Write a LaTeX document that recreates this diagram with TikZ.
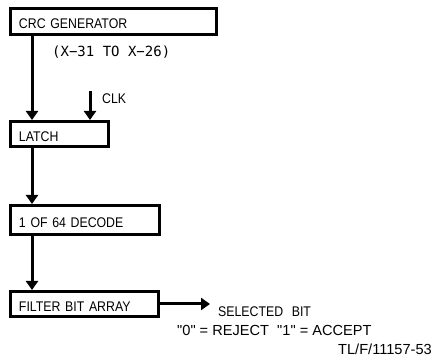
\documentclass[tikz,border=0pt]{standalone}
\usepackage{fontspec}
\setmainfont{Liberation Sans}
\newfontfamily\diafont{Liberation Sans}[FakeStretch=0.88,WordSpace=2.5]
\newfontfamily\plotfont{DejaVu Sans Mono}
\usetikzlibrary{arrows.meta}
\begin{document}
\begin{tikzpicture}[x=1pt,y=-1pt,
  box/.style={draw, line width=3pt, anchor=north west, align=left,
    inner xsep=8.5pt, inner ysep=0pt, text height=15pt, text depth=0pt,
    font=\diafont\fontsize{14}{16}\selectfont},
  lbl/.style={anchor=base west, inner sep=0pt, font=\diafont\fontsize{14}{16}\selectfont},
  monolbl/.style={anchor=base west, inner sep=0pt, font=\plotfont\fontsize{14}{16}\selectfont},
  note/.style={anchor=base west, inner sep=0pt, font=\fontsize{14.6}{16}\selectfont},
  figno/.style={anchor=base west, inner sep=0pt, font=\fontsize{14.6}{16}\selectfont},
  arr/.style={line width=3pt, -{Triangle[width=12pt,length=9pt]}}]
\useasboundingbox (0,0) rectangle (437,358);
\node[box, text width=189pt, minimum height=26pt] (crc) at (9,7) {CRC GENERATOR};
\node[box, text width=81pt, minimum height=25pt] (latch) at (9,120) {LATCH};
\node[box, text width=132pt, minimum height=29pt] (decode) at (9,204) {1 OF 64 DECODE};
\node[box, text width=131pt, minimum height=25pt] (filter) at (9,290) {FILTER BIT ARRAY};
\node[monolbl] (range) at (52,57) {(X−31 TO X−26)};
\node[lbl] (clk) at (102,104) {CLK};
\node[lbl] (sel) at (218,317) {SELECTED BIT};
\node[note] (rule) at (177,336) {\textquotedbl 0\textquotedbl{} = REJECT \ \textquotedbl 1\textquotedbl{} = ACCEPT};
\node[figno] (fig) at (338,354.5) {TL/F/11157-53};
\coordinate (clkin) at (90,91);
\coordinate (out) at (210,305);
\draw[arr] ([xshift=23pt]crc.south west) -- ([xshift=23pt]latch.north west);
\draw[arr] (clkin) -- (clkin |- latch.north);
\draw[arr] ([xshift=23pt]latch.south west) -- ([xshift=23pt]decode.north west);
\draw[arr] ([xshift=23pt]decode.south west) -- ([xshift=23pt]filter.north west);
\draw[arr] (filter.east) -- (filter.east -| out);
\end{tikzpicture}
\end{document}
